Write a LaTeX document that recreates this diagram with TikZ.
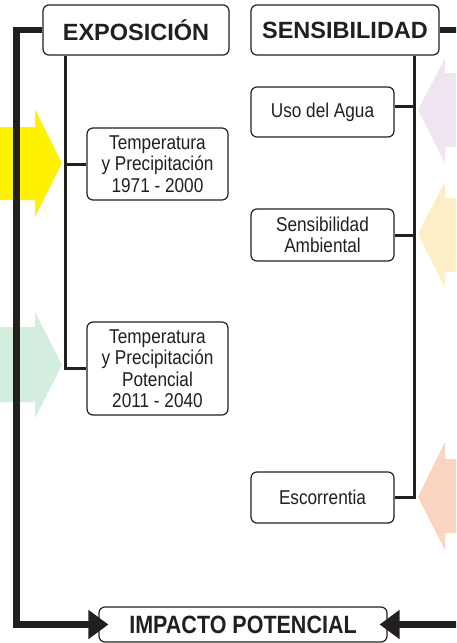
\documentclass[tikz,border=0pt]{standalone}
\usepackage{fontspec}
\setmainfont{Liberation Sans}
\newfontfamily\nfont[FakeStretch=0.86]{Liberation Sans}
\newfontfamily\hfont[FakeStretch=0.86]{Liberation Sans}
\usetikzlibrary{arrows.meta,calc}
\definecolor{ink}{HTML}{231F20}
\definecolor{ayel}{HTML}{FFF200}
\definecolor{agrn}{HTML}{D3EDDE}
\definecolor{apur}{HTML}{F1E5F1}
\definecolor{alyl}{HTML}{FEEEC6}
\definecolor{asal}{HTML}{FCD5C2}
\tikzset{
  box/.style={draw=ink, fill=white, line width=1.2pt, rounded corners=6pt, inner sep=0pt, text=ink, align=center},
  headbox/.style={box, font=\bfseries\fontsize{23.5}{25}\selectfont},
  smallbox/.style={box, font=\nfont\fontsize{20}{21.5}\selectfont},
  thickline/.style={draw=ink, line width=6.5pt, line join=miter},
  thinline/.style={draw=ink, line width=3pt, line join=miter},
  bigtip/.style={-{Triangle[length=20pt,width=28pt]}}
}
\begin{document}
\begin{tikzpicture}[x=1pt,y=-1pt]
\clip (0,0) rectangle (456,643);
\fill[white] (0,0) rectangle (456,643);
% background arrows (left, pointing right)
\fill[ayel] (-2,127) -- (35,127) -- (35,109) -- (62,163) -- (35,217) -- (35,200) -- (-2,200) -- cycle;
\fill[agrn] (-2,327) -- (35,327) -- (35,312) -- (62,365) -- (35,418) -- (35,402) -- (-2,402) -- cycle;
% background arrows (right, pointing left)
\fill[apur] (460,73) -- (445,73) -- (445,58) -- (418,110) -- (445,163) -- (445,147) -- (460,147) -- cycle;
\fill[alyl] (460,198) -- (445,198) -- (445,182) -- (418,234) -- (445,288) -- (445,272) -- (460,272) -- cycle;
\fill[asal] (460,459) -- (445,459) -- (445,442) -- (418,497) -- (445,550) -- (445,533) -- (460,533) -- cycle;

% boxes
\node[headbox, minimum width=186pt, minimum height=50pt] (expo) at (136,30) {EXPOSICIÓN};
\node[headbox, minimum width=188pt, minimum height=50pt] (sens) at (345,30) {SENSIBILIDAD};
\node[smallbox, minimum width=141pt, minimum height=72pt] (t1) at (157.5,164) {Temperatura\\y Precipitación\\1971 - 2000};
\node[smallbox, minimum width=141pt, minimum height=93pt] (t2) at (157.5,368.5) {Temperatura\\y Precipitación\\Potencial\\2011 - 2040};
\node[smallbox, minimum width=143pt, minimum height=50pt] (uso) at (322.5,112) {Uso del Agua};
\node[smallbox, minimum width=143pt, minimum height=52pt] (amb) at (322.5,235) {Sensibilidad\\Ambiental};
\node[smallbox, minimum width=143pt, minimum height=51pt] (esc) at (322.5,497.5) {Escorrentia};
\node[box, minimum width=288pt, minimum height=35pt, font=\hfont\bfseries\fontsize{25}{26}\selectfont] (imp) at (243,624.5) {IMPACTO POTENCIAL};

% inner connectors
\coordinate (ex) at ($(expo.south west)+(23.5,0)$);
\coordinate (sx) at ($(sens.south west)+(164,0)$);
\draw[thinline] (ex) |- (t2.west);
\draw[thinline] (ex |- t1.west) -- (t1.west);
\draw[thinline] (sx) |- (esc.east);
\draw[thinline] ($(sx |- uso.east)+(0,-6)$) -- ($(uso.east)+(0,-6)$);
\draw[thinline] (sx |- amb.east) -- (amb.east);

% outer connectors
\coordinate (lc) at (16.5,0);
\coordinate (rc) at (470,0);
\draw[thickline, bigtip, shorten >=-10pt] (expo.west) -| (lc |- imp.west) -- (imp.west);
\draw[thickline, bigtip, shorten >=-8pt] (sens.east) -| (rc |- imp.east) -- (imp.east);
\end{tikzpicture}
\end{document}
